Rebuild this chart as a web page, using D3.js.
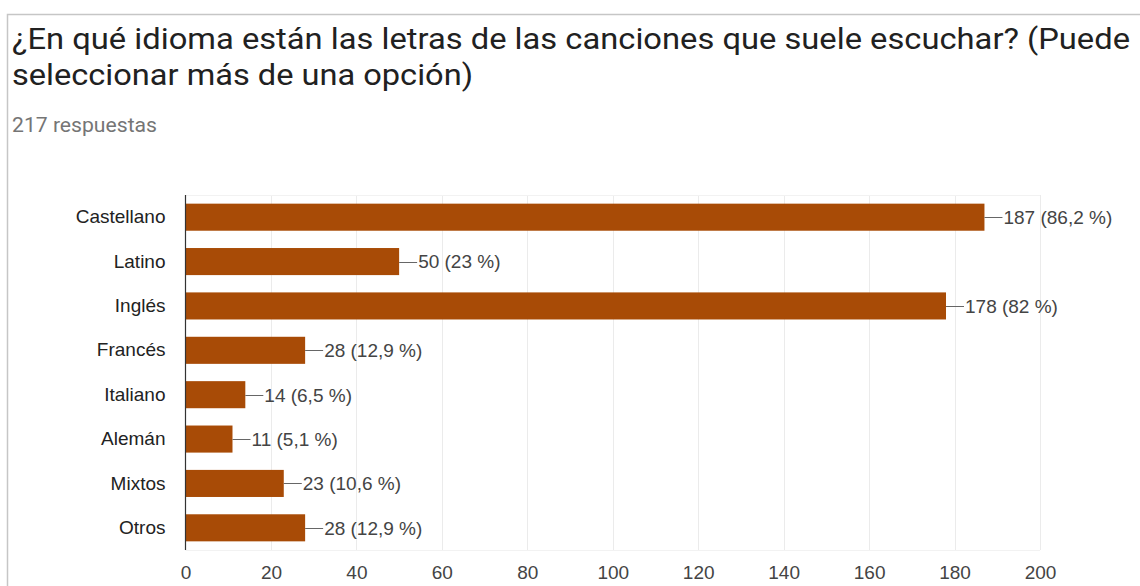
<!DOCTYPE html>
<html>
<head>
<meta charset="utf-8">
<script src="https://cdn.jsdelivr.net/npm/d3@7"></script>
<style>
  html, body { margin: 0; padding: 0; background: #fff; }
  svg { display: block; }
</style>
</head>
<body>
<svg id="chart" width="1140" height="586"></svg>
<script>
// Survey answers: language of the song lyrics (multiple choice)
const categories = ["Castellano", "Latino", "Inglés", "Francés", "Italiano", "Alemán", "Mixtos", "Otros"];
const counts = [187, 50, 178, 28, 14, 11, 23, 28];
const percents = ["86,2", "23", "82", "12,9", "6,5", "5,1", "10,6", "12,9"];
const xTicks = [0, 20, 40, 60, 80, 100, 120, 140, 160, 180, 200];
const titleLines = [
  "¿En qué idioma están las letras de las canciones que suele escuchar? (Puede",
  "seleccionar más de una opción)"
];
const titleWidths = [1118, 461];
const responses = "217 respuestas";

const svg = d3.select("#chart");

// card frame
svg.append("path")
  .attr("d", "M7.5,600 V14.5 H1150")
  .attr("fill", "none")
  .attr("stroke", "#c6c6c6")
  .attr("stroke-width", 1.5);

// heading
svg.append("g").selectAll("text")
  .data(titleLines)
  .join("text")
  .attr("x", 12)
  .attr("y", (d, i) => 49 + i * 36)
  .attr("font-family", "Roboto, sans-serif")
  .attr("font-size", 30)
  .attr("fill", "#212121")
  .attr("textLength", (d, i) => titleWidths[i])
  .attr("lengthAdjust", "spacingAndGlyphs")
  .text(d => d);

svg.append("text")
  .attr("x", 12)
  .attr("y", 132)
  .attr("font-family", "Roboto, sans-serif")
  .attr("font-size", 19.5)
  .attr("fill", "#757575")
  .attr("textLength", 145)
  .attr("lengthAdjust", "spacingAndGlyphs")
  .text(responses);

// scales
const x = d3.scaleLinear().domain([0, 200]).range([185.5, 1040]);
const y = d3.scaleBand().domain(categories).range([195, 550]).paddingInner(0.39).paddingOuter(0.195);

const font = "'Liberation Sans', Arial, sans-serif";

// vertical grid
svg.append("g").selectAll("line")
  .data(xTicks.filter(t => t > 0))
  .join("line")
  .attr("x1", d => Math.round(x(d)) + 0.5)
  .attr("x2", d => Math.round(x(d)) + 0.5)
  .attr("y1", 195).attr("y2", 550)
  .attr("stroke", "#ebebeb");

// faint frame lines of the plot area
svg.append("g").selectAll("line")
  .data([195, 550])
  .join("line")
  .attr("x1", x(0)).attr("x2", x(200))
  .attr("y1", d => d + 0.5).attr("y2", d => d + 0.5)
  .attr("stroke", "#f2f2f2");

// bars
svg.append("g").selectAll("rect")
  .data(categories)
  .join("rect")
  .attr("x", x(0))
  .attr("y", d => y(d))
  .attr("width", (d, i) => x(counts[i]) - x(0))
  .attr("height", y.bandwidth())
  .attr("fill", "#a84b06");

// value annotations with leader lines
const ann = svg.append("g");
categories.forEach((c, i) => {
  const cy = y(c) + y.bandwidth() / 2;
  const x0 = x(counts[i]);
  ann.append("line")
    .attr("x1", x0).attr("x2", x0 + 18)
    .attr("y1", Math.round(cy) + 0.5).attr("y2", Math.round(cy) + 0.5)
    .attr("stroke", "#666");
  ann.append("text")
    .attr("x", x0 + 19)
    .attr("y", cy)
    .attr("dy", "0.36em")
    .attr("font-family", font)
    .attr("font-size", 19)
    .attr("fill", "#444")
    .text(`${counts[i]} (${percents[i]} %)`);
});

// category axis
const yAxis = d3.axisLeft(y).tickSize(0).tickPadding(20);
const gy = svg.append("g").attr("transform", `translate(${x(0)},0)`).call(yAxis);
gy.select(".domain").remove();
gy.selectAll("text")
  .attr("font-family", font)
  .attr("font-size", 19)
  .attr("fill", "#222");

// baseline at zero
svg.append("line")
  .attr("x1", x(0)).attr("x2", x(0))
  .attr("y1", 195).attr("y2", 550)
  .attr("stroke", "#333")
  .attr("stroke-width", 1.2);

// value axis
const xAxis = d3.axisBottom(x).tickValues(xTicks).tickSize(0).tickPadding(16);
const gx = svg.append("g").attr("transform", "translate(0,550)").call(xAxis);
gx.select(".domain").remove();
gx.selectAll("text")
  .attr("font-family", font)
  .attr("font-size", 19)
  .attr("fill", "#444");
</script>
</body>
</html>
